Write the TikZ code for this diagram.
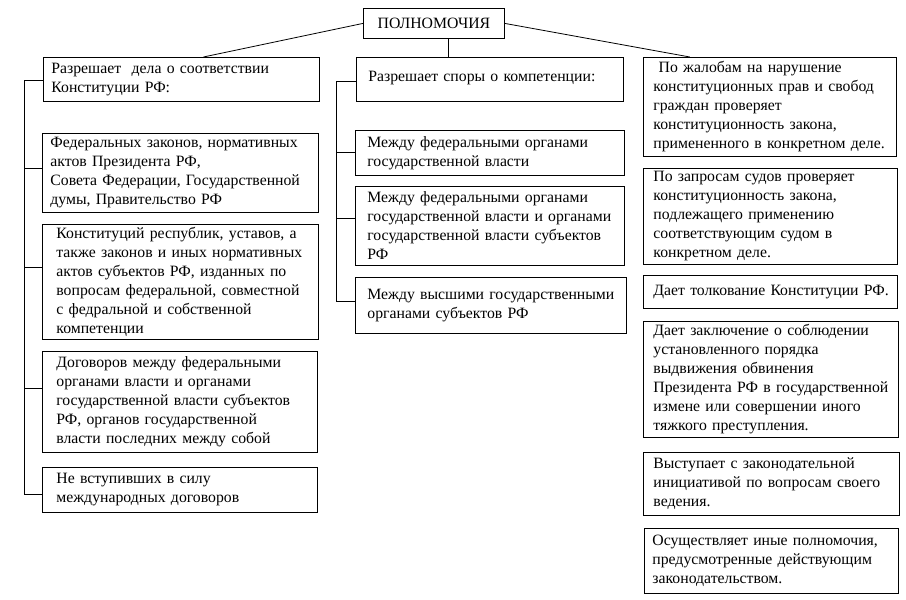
\documentclass[tikz,border=0pt]{standalone}
\usepackage{fontspec}
\setmainfont{Liberation Serif}
\usepackage{tikz}

\begin{document}
\begin{tikzpicture}[
    x=1pt,y=-1pt,
    line width=0.8pt,
    head/.style={rectangle,draw,anchor=north west,minimum width=141pt,minimum height=30pt,
                 inner sep=0pt,font=\fontsize{15.75}{19}\selectfont},
    box/.style={rectangle,draw,anchor=north west,align=left,inner xsep=8pt,inner ysep=0pt,
                font=\fontsize{15.75}{19}\selectfont},
    link/.style={line width=0.8pt}
  ]
    \useasboundingbox (0,0) rectangle (906,600);
    \node[head] (top) at (363,8) {ПОЛНОМОЧИЯ};
    % left column
    \node[box,text width=260pt,minimum height=44pt] (a1) at (43,57) {Разрешает~ дела о соответствии\\Конституции РФ:};
    \node[box,text width=260pt,minimum height=79pt] (a2) at (42,133) {Федеральных законов, нормативных\\актов Президента РФ,\\Совета Федерации, Государственной\\думы, Правительство РФ};
    \node[box,inner xsep=14pt,text width=248pt,minimum height=115pt] (a3) at (42,224) {Конституций республик, уставов, а\\также законов и иных нормативных\\актов субъектов РФ, изданных по\\вопросам федеральной, совместной\\с федральной и собственной\\компетенции};
    \node[box,inner xsep=14pt,text width=247pt,minimum height=101pt] (a4) at (42,351) {Договоров между федеральными\\органами власти и органами\\государственной власти субъектов\\РФ, органов государственной\\власти последних между собой};
    \node[box,inner xsep=14pt,text width=247pt,minimum height=45pt] (a5) at (42,467) {Не вступивших в силу\\международных договоров};
    % middle column
    \node[box,inner xsep=12pt,text width=243pt,minimum height=44pt] (m1) at (356,57) {\raisebox{6pt}{Разрешает споры о компетенции:}};
    \node[box,inner xsep=12pt,text width=245pt,minimum height=45pt] (m2) at (355,130) {Между федеральными органами\\государственной власти};
    \node[box,inner xsep=12pt,text width=245pt,minimum height=79pt] (m3) at (355,186) {Между федеральными органами\\государственной власти и органами\\государственной власти субъектов\\РФ};
    \node[box,inner xsep=12pt,text width=247pt,minimum height=56pt] (m4) at (355,277) {Между высшими государственными\\органами субъектов РФ};
    % right column
    \node[box,inner xsep=10pt,text width=233pt,minimum height=99pt] (r1) at (643,57) {\ По жалобам на нарушение\\конституционных прав и свобод\\граждан проверяет\\конституционность закона,\\примененного в конкретном деле.};
    \node[box,inner xsep=10pt,text width=234pt,minimum height=96pt] (r2) at (643,168) {По запросам судов проверяет\\конституционность закона,\\подлежащего применению\\соответствующим судом в\\конкретном деле.};
    \node[box,inner xsep=10pt,text width=234pt,minimum height=33pt] (r3) at (643,275) {\mbox{Дает толкование Конституции РФ.}};
    \node[box,inner xsep=10pt,text width=235pt,minimum height=116pt] (r4) at (643,321) {Дает заключение о соблюдении\\установленного порядка\\выдвижения обвинения\\Президента РФ в государственной\\измене или совершении иного\\тяжкого преступления.};
    \node[box,inner xsep=10pt,text width=236pt,minimum height=63pt] (r5) at (643,452) {Выступает с законодательной\\инициативой по вопросам своего\\ведения.};
    \node[box,inner xsep=8pt,text width=238pt,minimum height=65pt] (r6) at (644,528) {Осуществляет иные полномочия,\\предусмотренные действующим\\законодательством.};

    % from the heading down
    \draw[link] (top.west) -- ([xshift=22pt]a1.north);
    \draw[link] (top.east) -- ([xshift=-80pt]r1.north);
    \draw[link] ([xshift=14pt]top.south) -- ([xshift=14pt]top.south |- m1.north);

    % buses
    \coordinate (lbus) at (24,0);
    \coordinate (mbus) at (336,0);
    \draw[link] (lbus |- 0,80) -- (lbus |- 0,494);
    \draw[link] (mbus |- 0,81) -- (mbus |- 0,301);
    \foreach \n/\y in {a1/80,a2/168,a3/267,a4/388,a5/494}
      \draw[link] (lbus |- 0,\y) -- (\n.west |- 0,\y);
    \foreach \n/\y in {m1/81,m2/152,m3/218,m4/301}
      \draw[link] (mbus |- 0,\y) -- (\n.west |- 0,\y);
  \end{tikzpicture}
\end{document}
